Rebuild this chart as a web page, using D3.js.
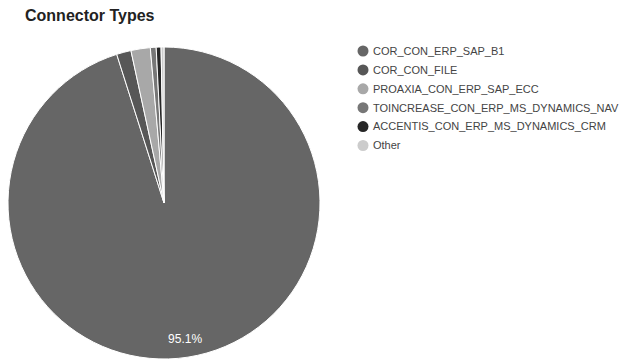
<!DOCTYPE html>
<html>
<head>
<meta charset="utf-8">
<script src="https://cdn.jsdelivr.net/npm/d3@7"></script>
<style>
  html, body { margin: 0; padding: 0; background: #fff; }
  svg { display: block; font-family: "Liberation Sans", Arial, sans-serif; }
</style>
</head>
<body>
<svg id="chart" width="630" height="361"></svg>
<script>
const categories = [
  "COR_CON_ERP_SAP_B1",
  "COR_CON_FILE",
  "PROAXIA_CON_ERP_SAP_ECC",
  "TOINCREASE_CON_ERP_MS_DYNAMICS_NAV",
  "ACCENTIS_CON_ERP_MS_DYNAMICS_CRM",
  "Other"
];
const values = [95.1, 1.5, 2.0, 0.6, 0.5, 0.3];
const colors = ["#666666", "#575757", "#a8a8a8", "#777777", "#262626", "#cccccc"];
const title = "Connector Types";

const svg = d3.select("#chart");

svg.append("text")
  .attr("x", 25).attr("y", 21)
  .attr("font-size", 16).attr("font-weight", "bold")
  .attr("fill", "#222")
  .text(title);

const data = categories.map((c, i) => ({ name: c, value: values[i] }));
const cx = 164, cy = 203, r = 156;
const color = d3.scaleOrdinal().domain(categories).range(colors);

const pie = d3.pie().value(d => d.value).sort(null);
const arc = d3.arc().innerRadius(0).outerRadius(r);
const labelArc = d3.arc().innerRadius(r * 0.88).outerRadius(r * 0.88);
const total = d3.sum(values);

const g = svg.append("g").attr("transform", `translate(${cx},${cy})`);
const arcs = pie(data);
g.selectAll("path").data(arcs).join("path")
  .attr("d", arc)
  .attr("fill", d => color(d.data.name))
  .attr("stroke", "#fff")
  .attr("stroke-width", 1);

g.selectAll("text.lbl").data(arcs.filter(d => d.data.value / total > 0.05)).join("text")
  .attr("class", "lbl")
  .attr("transform", d => `translate(${labelArc.centroid(d)})`)
  .attr("text-anchor", "middle")
  .attr("dy", "0.35em")
  .attr("font-size", 12)
  .attr("fill", "#fff")
  .text(d => (d.data.value / total * 100).toFixed(1) + "%");

const legend = svg.append("g").attr("transform", "translate(363,51)");
const rows = legend.selectAll("g").data(categories).join("g")
  .attr("transform", (d, i) => `translate(0,${i * 18.9})`);
rows.append("circle").attr("r", 5.5).attr("fill", d => color(d));
rows.append("text")
  .attr("x", 10).attr("dy", "0.35em")
  .attr("font-size", 11).attr("fill", "#444")
  .text(d => d);
</script>
</body>
</html>
